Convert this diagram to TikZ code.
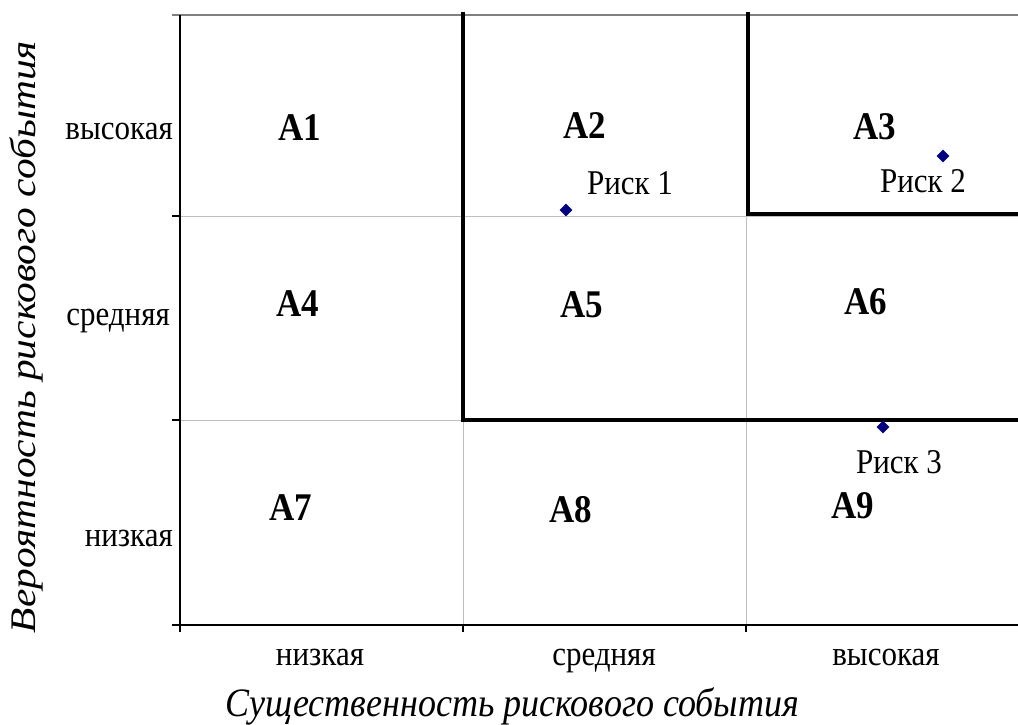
\documentclass[tikz,border=0pt]{standalone}
\usepackage{fontspec}
\usepackage{graphicx}
\setmainfont{Liberation Serif}
\usetikzlibrary{shapes.geometric}
\definecolor{gridgray}{RGB}{190,190,190}
\definecolor{topgray}{RGB}{128,128,128}
\definecolor{navymark}{RGB}{0,0,128}
\newcommand{\vstretch}[1]{\scalebox{1}[1.12]{#1}}
\tikzset{
  gridline/.style={draw=gridgray, line width=1pt},
  axisline/.style={draw=black, line width=1.2pt},
  zoneline/.style={draw=black, line width=4pt},
  cell/.style={font=\fontsize{35}{38}\selectfont\bfseries, inner sep=0pt},
  ticklbl/.style={font=\fontsize{31}{34}\selectfont, inner sep=0pt},
  risklbl/.style={font=\fontsize{31}{34}\selectfont, inner sep=0pt},
  axtitle/.style={font=\fontsize{36}{40}\selectfont\itshape, inner sep=0pt},
  riskmark/.style={diamond, fill=navymark, draw=none, minimum size=13pt, inner sep=0pt},
}
\begin{document}
\begin{tikzpicture}[x=1pt,y=-1pt]
\useasboundingbox (0,0) rectangle (1018,724);
% grid
\draw[gridline] (180,216) -- (1018,216);
\draw[gridline] (180,420) -- (1018,420);
\draw[gridline] (463,15) -- (463,625);
\draw[gridline] (746,15) -- (746,625);
\draw[draw=topgray, line width=1.2pt] (172,15) -- (1018,15);
% axes
\draw[axisline] (180,15) -- (180,625);
\draw[axisline] (172,625) -- (1018,625);
\foreach \yy in {216,420} \draw[axisline] (172,\yy) -- (180,\yy);
\foreach \xx in {180,463,746} \draw[axisline] (\xx,625) -- (\xx,632);
% zone borders
\coordinate (z1a) at (463,12);
\coordinate (z1b) at (463,420);
\coordinate (z1c) at (1018,420);
\coordinate (z2a) at (748,12);
\coordinate (z2b) at (748,214);
\coordinate (z2c) at (1018,214);
\draw[zoneline] (z1a) -- (z1b) -- (z1c);
\draw[zoneline] (z2a) -- (z2b) -- (z2c);
% cells
\node[cell] (a1) at (300,128) {\vstretch{A1}};
\node[cell] (a2) at (585,126) {\vstretch{A2}};
\node[cell] (a3) at (875,127) {\vstretch{A3}};
\node[cell] (a4) at (298,304) {\vstretch{A4}};
\node[cell] (a5) at (582,305) {\vstretch{A5}};
\node[cell] (a6) at (866,302) {\vstretch{A6}};
\node[cell] (a7) at (291,508) {\vstretch{A7}};
\node[cell] (a8) at (571,510) {\vstretch{A8}};
\node[cell] (a9) at (853,506) {\vstretch{A9}};
% risks
\node[riskmark] (r1) at (566,210) {};
\node[risklbl] (r1l) at (630,183) {\vstretch{Риск 1}};
\node[riskmark] (r2) at (943,156) {};
\node[risklbl] (r2l) at (923,181) {\vstretch{Риск 2}};
\node[riskmark] (r3) at (883,427) {};
\node[risklbl] (r3l) at (899,462) {\vstretch{Риск 3}};
% tick labels
\node[ticklbl, anchor=east] (yl1) at (173,131) {\vstretch{высокая}};
\node[ticklbl, anchor=east] (yl2) at (170,321) {\vstretch{средняя}};
\node[ticklbl, anchor=east] (yl3) at (173,538) {\vstretch{низкая}};
\node[ticklbl, anchor=base] (xl1) at (320,665) {\vstretch{низкая}};
\node[ticklbl, anchor=base] (xl2) at (604,665) {\vstretch{средняя}};
\node[ticklbl, anchor=base] (xl3) at (886,665) {\vstretch{высокая}};
% axis titles
\node[axtitle] (xt) at (512,706) {\vstretch{Существенность рискового события}};
\node[axtitle, rotate=90] (yt) at (26,337) {\scalebox{1.15}[1]{Вероятность рискового события}};
\end{tikzpicture}
\end{document}
